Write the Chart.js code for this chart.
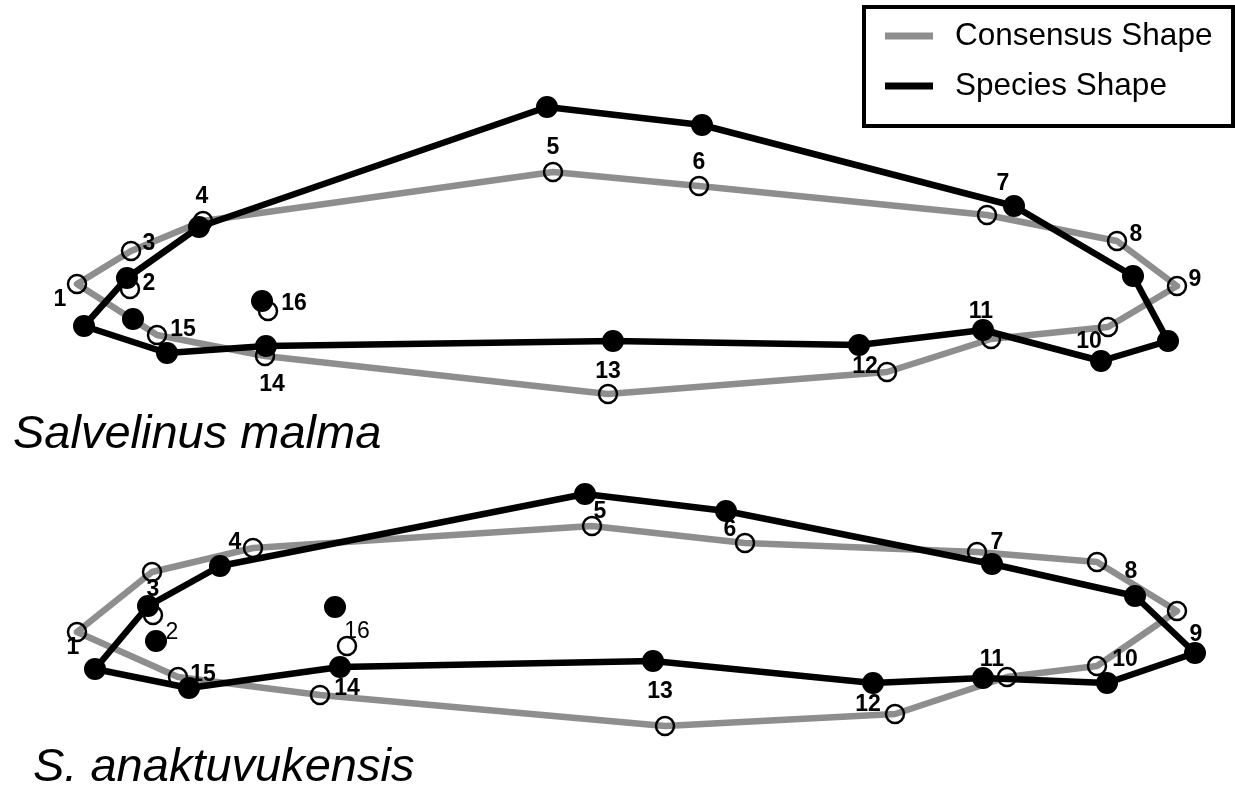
<!DOCTYPE html>
<html>
<head>
<meta charset="utf-8">
<script src="https://cdn.jsdelivr.net/npm/chart.js@4/dist/chart.umd.min.js"></script>
<style>
  html, body { margin: 0; padding: 0; background: #ffffff; }
  #wrap { width: 1235px; height: 791px; position: relative; }
</style>
</head>
<body>
<div id="wrap"><canvas id="shapes" width="1235" height="791"></canvas></div>
<script>
// Landmark numbers 1..16 and the order in which they form the body outline
const landmarkIds = [1, 2, 3, 4, 5, 6, 7, 8, 9, 10, 11, 12, 13, 14, 15, 16];
const outlineOrder = [1, 3, 4, 5, 6, 7, 8, 9, 10, 11, 12, 13, 14, 15, 1];

// Salvelinus malma: consensus landmarks
const malmaConsensusX = [77, 130, 131, 203, 553, 699, 987, 1117, 1177, 1108, 991, 887, 608, 265, 157, 268];
const malmaConsensusY = [284, 289, 251, 221, 172, 186, 215, 241, 286, 327, 339, 372, 394, 356, 335, 311];
// Salvelinus malma: species landmarks
const malmaSpeciesX = [84, 133, 127, 199, 547, 702, 1014, 1133, 1168, 1101, 983, 859, 613, 266, 167, 262];
const malmaSpeciesY = [326, 319, 278, 227, 107, 125, 206, 276, 341, 361, 330, 345, 341, 346, 353, 301];

// S. anaktuvukensis: consensus landmarks
const anakConsensusX = [77, 153, 152, 253, 592, 745, 977, 1097, 1177, 1097, 1007, 895, 665, 320, 178, 347];
const anakConsensusY = [632, 615, 572, 548, 526, 543, 552, 562, 611, 666, 677, 714, 726, 695, 677, 646];
// S. anaktuvukensis: species landmarks
const anakSpeciesX = [95, 156, 148, 220, 585, 726, 992, 1135, 1195, 1107, 983, 873, 653, 340, 189, 335];
const anakSpeciesY = [669, 641, 606, 566, 494, 511, 564, 596, 653, 683, 678, 683, 661, 667, 688, 607];

const seriesNames = ['Consensus Shape', 'Species Shape'];
const panelTitles = ['Salvelinus malma', 'S. anaktuvukensis'];

// ---- styling / layout ----
const GREY = '#8e8e8e';
const BLACK = '#000000';
const FONT = '"Liberation Sans", Arial, Helvetica, sans-serif';

// pixel offsets of each landmark number from its consensus point
const malmaLabelOffsets = [[-17,16],[19,-5],[18,-7],[-1,-24],[0,-24],[0,-23],[16,-31],[19,-6],[18,-6],[-19,15],[-10,-27],[-22,-5],[0,-22],[7,29],[26,-5],[26,-7]];
const anakLabelOffsets  = [[-4,16],[19,18],[1,18],[-18,-5],[8,-14],[-15,-13],[20,-9],[34,10],[19,24],[28,-6],[-15,-17],[-27,-9],[-5,-34],[27,-6],[25,-2],[10,-14]];
const anakLightLabels = [2, 16];

const toPoints = (xs, ys) => xs.map((x, i) => ({ x: x, y: ys[i] }));
const toOutline = (xs, ys) => outlineOrder.map(id => ({ x: xs[id - 1], y: ys[id - 1] }));

function lineSet(label, xs, ys, color, order) {
  return {
    label: label, data: toOutline(xs, ys), showLine: true,
    borderColor: color, borderWidth: 6.5, pointRadius: 0, pointHoverRadius: 0,
    fill: false, tension: 0, order: order, clip: false,
    borderJoinStyle: 'round', borderCapStyle: 'round'
  };
}
function openPoints(xs, ys) {
  return {
    label: 'consensus landmarks', data: toPoints(xs, ys), showLine: false,
    pointRadius: 9, pointBorderWidth: 2.5, pointBorderColor: BLACK,
    pointBackgroundColor: 'rgba(0,0,0,0)', order: 2, clip: false
  };
}
function filledPoints(xs, ys) {
  return {
    label: 'species landmarks', data: toPoints(xs, ys), showLine: false,
    pointRadius: 11, pointBorderWidth: 0, pointBorderColor: BLACK,
    pointBackgroundColor: BLACK, order: 1, clip: false
  };
}

const datasets = [
  lineSet(seriesNames[0], malmaConsensusX, malmaConsensusY, GREY, 6),
  lineSet(seriesNames[1], malmaSpeciesX, malmaSpeciesY, BLACK, 5),
  lineSet(seriesNames[0], anakConsensusX, anakConsensusY, GREY, 6),
  lineSet(seriesNames[1], anakSpeciesX, anakSpeciesY, BLACK, 5),
  openPoints(malmaConsensusX, malmaConsensusY),
  filledPoints(malmaSpeciesX, malmaSpeciesY),
  openPoints(anakConsensusX, anakConsensusY),
  filledPoints(anakSpeciesX, anakSpeciesY)
];

// Landmark numbers, species names and the legend box
const annotations = {
  id: 'annotations',
  afterDatasetsDraw(chart) {
    const ctx = chart.ctx;
    const xs = chart.scales.x, ys = chart.scales.y;
    ctx.save();
    ctx.fillStyle = BLACK;
    ctx.textAlign = 'center';
    ctx.textBaseline = 'middle';
    const panels = [
      { cx: malmaConsensusX, cy: malmaConsensusY, off: malmaLabelOffsets, light: [] },
      { cx: anakConsensusX, cy: anakConsensusY, off: anakLabelOffsets, light: anakLightLabels }
    ];
    panels.forEach(p => {
      landmarkIds.forEach((id, i) => {
        const px = xs.getPixelForValue(p.cx[i]) + p.off[i][0];
        const py = ys.getPixelForValue(p.cy[i]) + p.off[i][1];
        ctx.font = (p.light.includes(id) ? '' : 'bold ') + '23px ' + FONT;
        ctx.fillText(String(id), px, py);
      });
    });

    // species names
    ctx.textAlign = 'left';
    ctx.textBaseline = 'alphabetic';
    ctx.font = 'italic 47px ' + FONT;
    ctx.fillText(panelTitles[0], 13, 448);
    ctx.fillText(panelTitles[1], 33, 781);

    // legend
    ctx.lineWidth = 4;
    ctx.strokeStyle = BLACK;
    ctx.strokeRect(864, 7, 369, 119);
    const entries = [
      { text: seriesNames[0], color: GREY, y: 36 },
      { text: seriesNames[1], color: BLACK, y: 86 }
    ];
    ctx.font = '31.5px ' + FONT;
    ctx.textBaseline = 'middle';
    entries.forEach(e => {
      ctx.beginPath();
      ctx.strokeStyle = e.color;
      ctx.lineWidth = 7;
      ctx.moveTo(885, e.y);
      ctx.lineTo(933, e.y);
      ctx.stroke();
      ctx.fillStyle = BLACK;
      ctx.fillText(e.text, 955, e.y);
    });
    ctx.restore();
  }
};

new Chart(document.getElementById('shapes'), {
  type: 'scatter',
  data: { datasets: datasets },
  options: {
    responsive: false,
    animation: false,
    layout: { padding: 0, autoPadding: false },
    plugins: { legend: { display: false }, tooltip: { enabled: false } },
    scales: {
      x: { type: 'linear', min: 0, max: 1235, display: false },
      y: { type: 'linear', min: 0, max: 791, reverse: true, display: false }
    }
  },
  plugins: [annotations]
});
</script>
</body>
</html>
